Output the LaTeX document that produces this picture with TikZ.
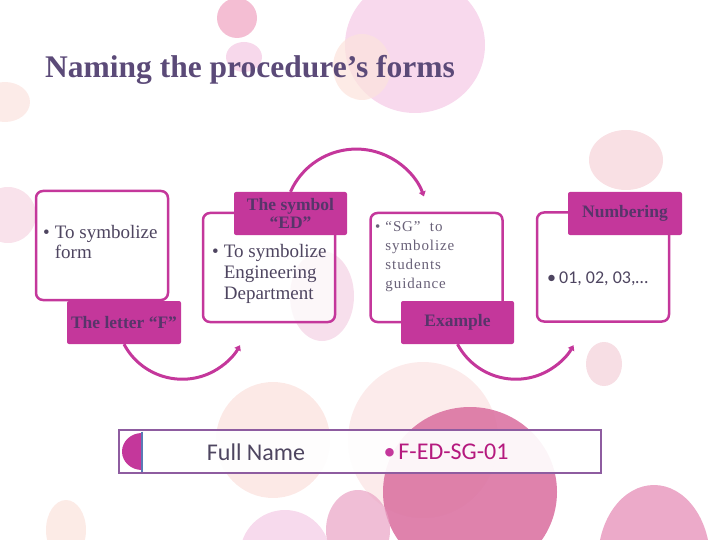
\documentclass[tikz,border=0pt]{standalone}
\usepackage{fontspec}
\setmainfont{Liberation Serif}
\newfontfamily\calfont{Carlito}
\newfontfamily\thinfont[LetterSpace=6]{Liberation Serif}
\usepackage{tikz}
\usetikzlibrary{arrows.meta,positioning}
\definecolor{mag}{HTML}{C4379B}
\definecolor{labtxt}{HTML}{57356A}
\definecolor{titlec}{HTML}{5B4A78}
\definecolor{bodytxt}{HTML}{4E4560}
\definecolor{barc}{HTML}{8E5CA0}
\definecolor{codec}{HTML}{B5197E}
\definecolor{blueln}{HTML}{5A7BB5}
\newcommand{\bul}[1]{\textbullet\hspace{5pt}\begin{tabular}[t]{@{}l@{}}#1\end{tabular}}
\tikzset{
  box/.style={draw=mag, line width=2.5pt, rounded corners=7pt, fill=white, fill opacity=0.75, minimum width=132pt, minimum height=109pt, inner sep=0pt},
  lab/.style={fill=mag, rounded corners=2pt, minimum width=114pt, minimum height=43pt, inner sep=0pt, text=labtxt, align=center, font=\fontsize{17.5}{18}\selectfont\bfseries},
  item/.style={anchor=base west, inner sep=0pt, text=bodytxt, font=\fontsize{19}{20.5}\selectfont},
  flow/.style={draw=mag, line width=3pt, -{Triangle[length=5pt,width=7pt]}},
  bub/.style={opacity=0.7}
}

\begin{document}
\begin{tikzpicture}[x=1pt, y=-1pt]
\useasboundingbox (0,0) rectangle (720,540);
\clip (0,0) rectangle (720,540);
% background bubbles
\fill[bub, color={rgb,255:red,245;green,201;blue,230}] (415,45) ellipse[x radius=70, y radius=68];
\fill[bub, color={rgb,255:red,239;green,163;blue,192}] (237,18) circle[radius=20];
\fill[bub, color={rgb,255:red,243;green,200;blue,227}] (244,57) ellipse[x radius=18, y radius=15];
\fill[bub, color={rgb,255:red,252;green,227;blue,220}] (362,67) ellipse[x radius=29, y radius=33];
\fill[bub, color={rgb,255:red,251;green,227;blue,222}] (5,102) ellipse[x radius=25, y radius=20];
\fill[bub, color={rgb,255:red,246;green,211;blue,216}] (626,160) ellipse[x radius=37, y radius=30];
\fill[bub, color={rgb,255:red,244;green,210;blue,228}] (322,296) ellipse[x radius=32, y radius=45];
\fill[bub, color={rgb,255:red,246;green,213;blue,227}] (8,215) circle[radius=28];
\fill[bub, color={rgb,255:red,251;green,224;blue,220}] (273,440) ellipse[x radius=57, y radius=58];
\fill[bub, color={rgb,255:red,251;green,227;blue,227}] (423,440) ellipse[x radius=75, y radius=78];
\fill[bub, opacity=0.9, color={rgb,255:red,219;green,116;blue,163}] (470,492) ellipse[x radius=87, y radius=85];
\fill[bub, color={rgb,255:red,233;green,163;blue,196}] (358,530) ellipse[x radius=32, y radius=40];
\fill[bub, color={rgb,255:red,244;green,203;blue,229}] (285,555) circle[radius=45];
\fill[bub, opacity=0.85, color={rgb,255:red,233;green,155;blue,192}] (654,560) ellipse[x radius=56, y radius=75];
\fill[bub, color={rgb,255:red,251;green,226;blue,220}] (66,530) ellipse[x radius=20, y radius=30];
\fill[bub, color={rgb,255:red,243;green,208;blue,216}] (604,364) ellipse[x radius=18, y radius=22];

\node[anchor=base west, inner sep=0pt, text=titlec, font=\fontsize{31.5}{34}\selectfont\bfseries] (title) at (45,78) {Naming the procedure’s forms};

% the four steps
\node[box] (b1) at (102,245.5) {};
\node[box] (b2) at (269,267.5) {};
\node[box] (b3) at (436.5,267.5) {};
\node[box] (b4) at (603,267) {};

\node[lab] (lf) at (124,322.5) {The letter “F”};
\node[lab, minimum width=113pt] (ls) at (290.5,213.5) {The symbol\\“ED”};
\node[lab, minimum width=113pt] (le) at (457.5,322.5) {Example};
\node[lab] (ln) at (625,213.5) {Numbering};

\node[item] (t1) at (43,238) {\bul{To symbolize\\form}};
\node[item] (t2) at (212,258) {\bul{To symbolize\\Engineering\\Department}};
\node[item, font=\fontsize{15}{19}\thinfont, text=bodytxt!85] (t3) at (375,232) {\bul{“SG”\ \ to\\symbolize\\students\\guidance}};
\node[item, font=\fontsize{18}{21}\calfont] (t4) at (547,283) {\textbullet\hspace{3pt}01, 02, 03,…};

\draw[flow] (lf.south) arc[start angle=152, end angle=29, radius=66];
\draw[flow] (ls.north) arc[start angle=204, end angle=340, radius=72];
\draw[flow] (le.south) arc[start angle=152, end angle=29, radius=66];

% result bar
\node[draw=barc, line width=2pt, fill=white, fill opacity=0.92, minimum width=482pt, minimum height=43pt, inner sep=0pt] (bar) at (360,451.5) {};
\fill[mag] (142,433) arc[start angle=270, end angle=90, x radius=20, y radius=18.5] -- cycle;
\draw[blueln, line width=2pt] (142,431.5) -- (142,471.5);
\node[inner sep=0pt, text=bodytxt, font=\fontsize{24}{26}\calfont] (fn) at (256,452) {Full Name};
\node[inner sep=0pt, text=codec, font=\fontsize{24}{26}\calfont] (code) at (446,452) {\textcolor{mag}{\textbullet}\hspace{3pt}F-ED-SG-01};
\end{tikzpicture}
\end{document}
